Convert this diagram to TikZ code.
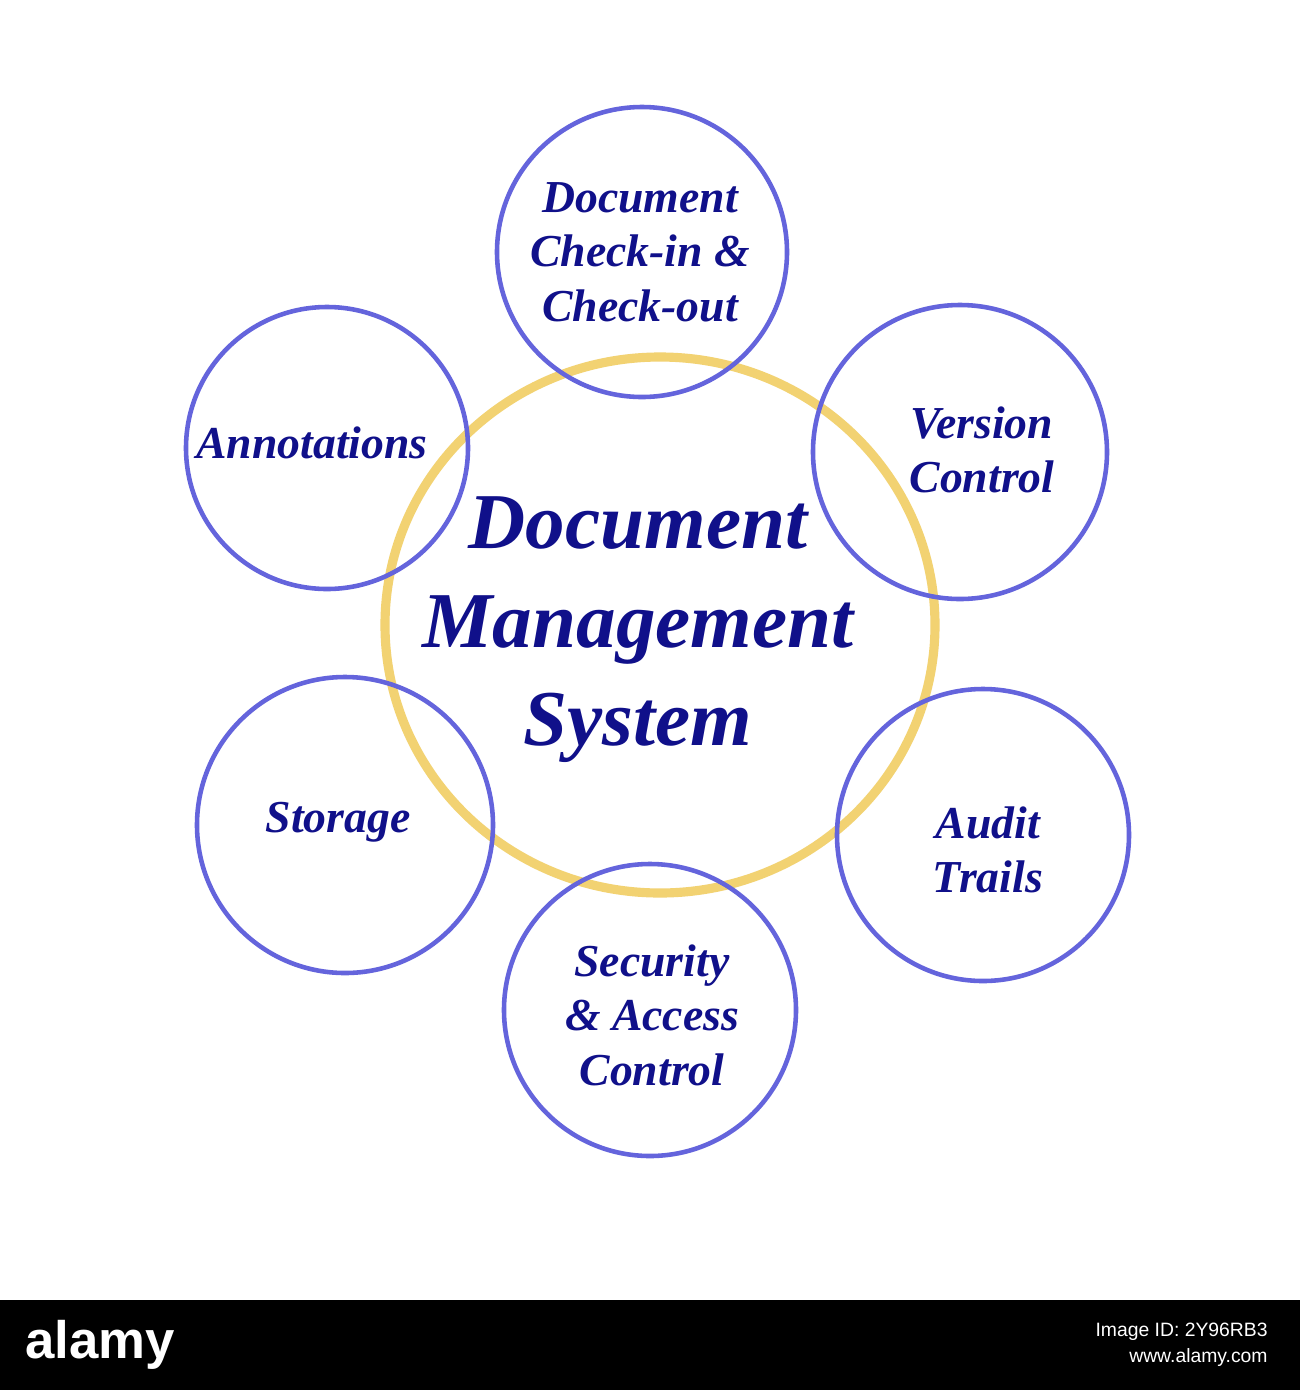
\documentclass[tikz,border=0pt]{standalone}
\usepackage{fontspec}
\setmainfont{Liberation Serif}
\newfontfamily\wmfont{Liberation Sans}
\definecolor{ring}{HTML}{6464DC}
\definecolor{gold}{HTML}{F2D272}
\definecolor{ink}{HTML}{10108A}
\begin{document}
\begin{tikzpicture}[x=0.01cm,y=-0.01cm,
  sat/.style={draw=ring,line width=1.3pt},
  lbl/.style={text=ink,font=\fontsize{13}{15.5}\selectfont\bfseries\itshape,align=center},
  big/.style={text=ink,font=\fontsize{22.5}{28}\selectfont\bfseries\itshape,align=center}]
\useasboundingbox (0,0) rectangle (1300,1390);
\fill[white] (0,0) rectangle (1300,1300);
\draw[gold,line width=2.6pt] (660,625) ellipse (275 and 268);
\draw[sat] (642,252) circle (145);
\draw[sat] (960,452) circle (147);
\draw[sat] (327,448) circle (141);
\draw[sat] (345,825) circle (148);
\draw[sat] (983,835) circle (146);
\draw[sat] (650,1010) circle (146);
\node[big] (c) at (638,630) {Document\\Management\\System};
\node[lbl] (t) at (640,252) {Document\\Check-in \&\\Check-out};
\node[lbl] (v) at (982,450) {Version\\Control};
\node[lbl] (a) at (312,443) {Annotations};
\node[lbl] (s) at (338,822) {Storage};
\node[lbl] (au) at (988,850) {Audit\\Trails};
\node[lbl] (se) at (652,1015) {Security\\\& Access\\Control};
\fill[black] (0,1300) rectangle (1300,1390);
\node[white,font=\wmfont\fontsize{15}{15}\selectfont\bfseries] (wm) at (100,1345) {alamy};
\node[white,font=\wmfont\fontsize{5.5}{7.5}\selectfont,align=right,anchor=east] (id) at (1280,1345) {Image ID: 2Y96RB3\\www.alamy.com};
\end{tikzpicture}
\end{document}
